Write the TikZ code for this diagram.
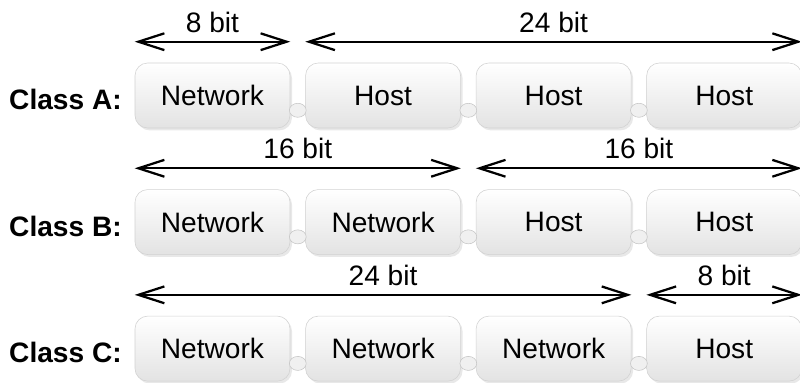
\documentclass[tikz,border=0pt]{standalone}
\usepackage{fontspec}
\setmainfont{Liberation Sans}
\usepackage{tikz}
\usetikzlibrary{arrows.meta, positioning, shapes.geometric, calc, shadows}

\begin{document}
\begin{tikzpicture}[
        node distance=1.525cm and 0.375cm,
        field/.style={rectangle, draw=gray!35, top color=white, bottom color=gray!22, minimum width=3.875cm, minimum height=1.625cm, rounded corners=9pt, font=\fontsize{20}{24}\selectfont, drop shadow={opacity=0.18, shadow xshift=0.05cm, shadow yshift=-0.06cm}},
        cls/.style={font=\fontsize{20}{24}\selectfont\bfseries, yshift=-0.1cm},
        joint/.style={ellipse, draw=gray!45, fill=gray!12, minimum width=0.42cm, minimum height=0.35cm, inner sep=0pt},
        bitarrow/.style={arrows={Straight Barb[length=6.5mm, width=4.2mm, line width=1.6pt]-Straight Barb[length=6.5mm, width=4.2mm, line width=1.6pt]}, line width=1.3pt},
        bits/.style={font=\fontsize{20}{24}\selectfont, above=5pt, inner sep=1pt},
    ]
        \useasboundingbox (0,0) rectangle (20,-9.55);

        % Class A
        \node[field] (a1) at (5.3125,-2.3875) {Network};
        \node[field, right=of a1] (a2) {Host};
        \node[field, right=of a2] (a3) {Host};
        \node[field, right=of a3] (a4) {Host};
        \node[cls, left=0.2cm of a1] (clsa) {Class A:};

        % Class B
        \node[field, below=of a1] (b1) {Network};
        \node[field, right=of b1] (b2) {Network};
        \node[field, right=of b2] (b3) {Host};
        \node[field, right=of b3] (b4) {Host};
        \node[cls, left=0.2cm of b1] (clsb) {Class B:};

        % Class C
        \node[field, below=of b1] (c1) {Network};
        \node[field, right=of c1] (c2) {Network};
        \node[field, right=of c2] (c3) {Network};
        \node[field, right=of c3] (c4) {Host};
        \node[cls, left=0.2cm of c1] (clsc) {Class C:};

        % Joints between the fields
        \node[joint] (ja1) at ($(a1.south east)!0.5!(a2.south west)+(0,0.45)$) {};
        \node[joint] (ja2) at ($(a2.south east)!0.5!(a3.south west)+(0,0.45)$) {};
        \node[joint] (ja3) at ($(a3.south east)!0.5!(a4.south west)+(0,0.45)$) {};
        \node[joint] (jb1) at ($(b1.south east)!0.5!(b2.south west)+(0,0.45)$) {};
        \node[joint] (jb2) at ($(b2.south east)!0.5!(b3.south west)+(0,0.45)$) {};
        \node[joint] (jb3) at ($(b3.south east)!0.5!(b4.south west)+(0,0.45)$) {};
        \node[joint] (jc1) at ($(c1.south east)!0.5!(c2.south west)+(0,0.45)$) {};
        \node[joint] (jc2) at ($(c2.south east)!0.5!(c3.south west)+(0,0.45)$) {};
        \node[joint] (jc3) at ($(c3.south east)!0.5!(c4.south west)+(0,0.45)$) {};

        % Arrow ends
        \coordinate[above=0.525cm of a1.north west] (aw1);
        \coordinate[above=0.525cm of a1.north east] (ae1);
        \coordinate[above=0.525cm of a2.north west] (aw2);
        \coordinate[above=0.525cm of a4.north east] (ae2);
        \coordinate[above=0.525cm of b1.north west] (bw1);
        \coordinate[above=0.525cm of b2.north east] (be1);
        \coordinate[above=0.525cm of b3.north west] (bw2);
        \coordinate[above=0.525cm of b4.north east] (be2);
        \coordinate[above=0.525cm of c1.north west] (cw1);
        \coordinate[above=0.525cm of c3.north east] (ce1);
        \coordinate[above=0.525cm of c4.north west] (cw2);
        \coordinate[above=0.525cm of c4.north east] (ce2);

        % Bit widths
        \draw[bitarrow] (aw1) -- node[bits] (na1) {8 bit} (ae1);
        \draw[bitarrow] (aw2) -- node[bits] (na2) {24 bit} (ae2);
        \draw[bitarrow] (bw1) -- node[bits] (nb1) {16 bit} (be1);
        \draw[bitarrow] (bw2) -- node[bits] (nb2) {16 bit} (be2);
        \draw[bitarrow] (cw1) -- node[bits] (nc1) {24 bit} (ce1);
        \draw[bitarrow] (cw2) -- node[bits] (nc2) {8 bit} (ce2);
    \end{tikzpicture}
\end{document}
